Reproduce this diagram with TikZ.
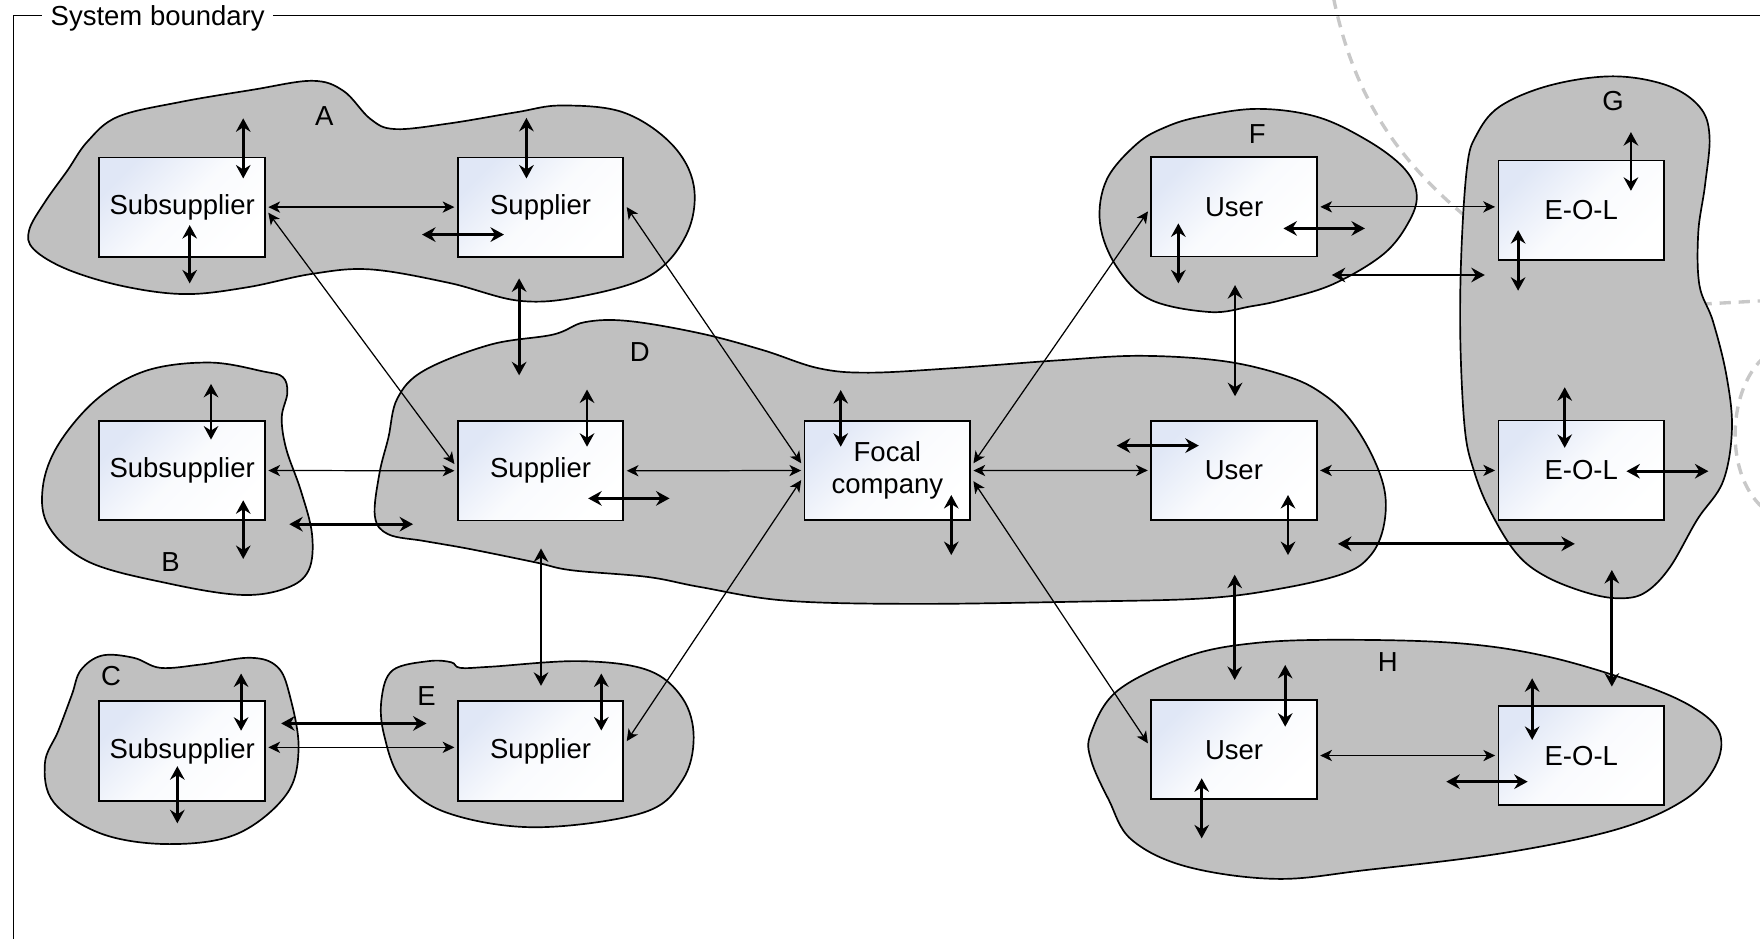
\documentclass[tikz,border=0pt]{standalone}
\usepackage{fontspec}
\setmainfont{Liberation Sans}
\usetikzlibrary{arrows.meta}

\definecolor{blobgray}{RGB}{192,192,192}
\definecolor{boxblue}{RGB}{224,231,246}
\definecolor{dashgray}{RGB}{200,200,200}

\tikzset{
  every node/.style={font=\fontsize{24.5}{28.5}\selectfont},
  unit/.style={draw, line width=1.6pt, minimum width=147.5pt, minimum height=88.5pt,
    inner sep=0pt, outer sep=3pt, align=center,
    top color=boxblue, bottom color=white, middle color=boxblue!18!white, shading angle=45},
  blob/.style={fill=blobgray, draw=black, line width=1.5pt},
  zone/.style={inner sep=0pt},
  flow/.style={line width=1.1pt,
    {Stealth[length=10.5pt,width=10pt,inset=3pt]}-{Stealth[length=10.5pt,width=10pt,inset=3pt]}},
  link/.style={line width=2.5pt,
    {Stealth[length=12pt,width=13pt,inset=4pt]}-{Stealth[length=12pt,width=13pt,inset=4pt]}},
  guide/.style={draw=dashgray, line width=3pt, dash pattern=on 10pt off 7pt},
  frame/.style={line width=1.3pt}
}

\begin{document}
\begin{tikzpicture}[x=1pt, y=-1pt]
\useasboundingbox (0,0) rectangle (1568,836);

% system boundary
\draw[frame] (12,840) -- (12,14) -- (37,14);
\draw[frame] (243,14) -- (1570,14);
\node[anchor=base, inner sep=0pt] (sysb) at (140.5,23) {System boundary};

% faint dashed guide arcs
\draw[guide] (1188,-2) .. controls (1205,80) and (1240,140) .. (1312,198);
\draw[guide] (1515,271) -- (1570,268);
\draw[guide] (1572,318) .. controls (1540,345) and (1535,420) .. (1570,452);

% clusters
\draw[blob] plot[smooth cycle, tension=0.6] coordinates {
  (26,205) (40,180) (60,152) (78,126) (105,104) (160,91) (225,80) (278,72)
  (306,81) (330,106) (352,115) (400,110) (460,100) (500,94) (555,100) (598,128)
  (618,165) (612,208) (580,245) (518,264) (463,268) (400,252) (330,240)
  (278,244) (220,256) (165,262) (110,255) (60,240) (30,222)};
\draw[blob] plot[smooth cycle, tension=0.6] coordinates {
  (187,323) (235,331) (252,336) (256,350) (251,372) (255,400) (268,437) (278,476)
  (275,508) (255,524) (215,530) (151,520) (80,501) (44,470) (38,435) (52,396)
  (87,355) (131,330)};
\draw[blob] plot[smooth cycle, tension=0.6] coordinates {
  (91,584) (119,586) (143,595) (179,592) (223,586) (247,594) (258,619) (266,667)
  (255,708) (211,743) (151,752) (91,743) (48,715) (40,680) (52,651) (64,619)
  (72,597)};
\draw[blob] plot[smooth cycle, tension=0.6] coordinates {
  (521,287) (560,286) (624,297) (680,312) (729,328) (774,332) (849,328) (943,321)
  (1017,317) (1092,322) (1149,336) (1180,352) (1203,374) (1223,407) (1234,440)
  (1232,472) (1220,496) (1197,511) (1143,524) (1074,533) (961,536) (811,538)
  (699,535) (624,523) (577,514) (509,508) (477,501) (418,489) (378,482) (346,476)
  (334,460) (338,422) (346,390) (354,355) (378,330) (437,307) (493,298)};
\draw[blob] plot[smooth cycle, tension=0.6] coordinates {
  (350,597) (382,589) (402,590) (410,595) (437,594) (517,589) (577,597) (608,622)
  (618,657) (608,695) (573,724) (477,737) (398,724) (358,695) (342,654) (340,622)};
\draw[blob] plot[smooth cycle, tension=0.6] coordinates {
  (1069,104) (1120,97) (1173,104) (1218,125) (1250,149) (1262,172) (1256,196)
  (1233,226) (1188,253) (1143,267) (1114,273) (1078,278) (1025,267) (995,238)
  (980,199) (986,160) (1013,128) (1039,113)};
\draw[blob] plot[smooth cycle, tension=0.6] coordinates {
  (1437,68) (1485,76) (1514,95) (1523,121) (1519,165) (1513,207) (1514,254)
  (1526,286) (1538,334) (1543,382) (1535,429) (1512,463) (1488,505) (1467,527)
  (1446,533) (1417,529) (1378,514) (1351,493) (1327,454) (1313,419) (1305,382)
  (1301,302) (1302,223) (1307,149) (1315,121) (1336,95) (1381,76)};
\draw[blob] plot[smooth cycle, tension=0.6] coordinates {
  (1194,570) (1299,573) (1379,585) (1460,609) (1508,630) (1532,653) (1528,683)
  (1500,713) (1440,739) (1339,760) (1218,775) (1137,783) (1057,772) (1008,748)
  (988,713) (972,677) (972,653) (996,615) (1057,585) (1117,573)};

% cluster letters
\node[zone] (zA) at (289,103) {A};
\node[zone] (zB) at (152,501) {B};
\node[zone] (zC) at (99,602) {C};
\node[zone] (zD) at (570,314) {D};
\node[zone] (zE) at (380,620) {E};
\node[zone] (zF) at (1120,119.5) {F};
\node[zone] (zG) at (1437,90) {G};
\node[zone] (zH) at (1236.5,590) {H};

% actors
\node[unit] (subA)  at (162.3,184.5) {Subsupplier};
\node[unit] (supA)  at (481.6,184.5) {Supplier};
\node[unit] (subB)  at (162.3,419.2) {Subsupplier};
\node[unit] (supD)  at (481.6,419.4) {Supplier};
\node[unit] (focal) at (790.5,419.2) {Focal\\company};
\node[unit] (userD) at (1099.3,419.1) {User};
\node[unit] (userF) at (1099.5,184.3) {User};
\node[unit] (eolA)  at (1408.7,187.2) {E-O-L};
\node[unit] (eolB)  at (1408.7,418.9) {E-O-L};
\node[unit] (subC)  at (162.3,669.1) {Subsupplier};
\node[unit] (supE)  at (481.6,669.1) {Supplier};
\node[unit] (userH) at (1099.4,667.9) {User};
\node[unit] (eolH)  at (1408.8,673.1) {E-O-L};

% flows between actors
\draw[flow] (subA.east) -- (supA.west);
\draw[flow] ([yshift=-5pt]subA.east) -- ([yshift=6pt]supD.west);
\draw[flow] (supA.east) -- ([yshift=6.5pt]focal.west);
\draw[flow] (subB.east) -- (supD.west);
\draw[flow] (supD.east) -- (focal.west);
\draw[flow] ([yshift=8.8pt]supE.east) -- ([yshift=-8.5pt]focal.west);
\draw[flow] ([yshift=3.3pt]subC.east) -- ([yshift=3.3pt]supE.west);
\draw[flow] (focal.east) -- (userD.west);
\draw[flow] ([yshift=6.5pt]focal.east) -- ([yshift=-4pt]userF.west);
\draw[flow] ([yshift=-9.5pt]focal.east) -- ([yshift=5.7pt]userH.west);
\draw[flow] (userF.east) -- (userF.east -| eolA.west);
\draw[flow] (userD.east) -- (userD.east -| eolB.west);
\draw[flow] (eolH.west -| userH.east) -- (eolH.west);

% links between clusters
\draw[link] (462.5,248) -- (462.5,334.4);
\draw[link] (482,488.6) -- (482,611);
\draw[link] (1100.3,254) -- (1100.3,353);
\draw[link] (1100,512) -- (1100,605.8);
\draw[link] (1436,507.8) -- (1436,611.7);
\draw[link] (257.7,467) -- (368,467);
\draw[link] (250.5,644.5) -- (380,644.5);
\draw[link] (1186.5,245) -- (1322.8,245);
\draw[link] (1192,484.5) -- (1403,484.5);

% exchanges of each actor with its surroundings
\draw[link] (216.7,105.4) -- (216.7,159);
\draw[link] (169,200.5) -- (169,252.5);
\draw[link] (469,105) -- (469,159);
\draw[link] (376,209) -- (449,209);
\draw[link] (188,342) -- (188,391.6);
\draw[link] (216.7,445.7) -- (216.7,498);
\draw[link] (523,347) -- (523,398);
\draw[link] (524,444) -- (596.5,444);
\draw[link] (749,347.5) -- (749,398);
\draw[link] (847.5,441) -- (847.5,494.5);
\draw[link] (994.9,397) -- (1068,397);
\draw[link] (1147.5,441) -- (1147.5,494.5);
\draw[link] (1049.8,199) -- (1049.8,252.5);
\draw[link] (1143.4,203.5) -- (1216,203.5);
\draw[link] (1453,117.7) -- (1453,170);
\draw[link] (1352.5,205) -- (1352.5,259);
\draw[link] (1394,345) -- (1394,399);
\draw[link] (1449,419.8) -- (1522,419.8);
\draw[link] (214.8,600) -- (214.8,651);
\draw[link] (158,682.6) -- (158,733.5);
\draw[link] (535.7,600) -- (535.7,650.8);
\draw[link] (1145,592.4) -- (1145,647.4);
\draw[link] (1070.6,693.4) -- (1070.6,746.9);
\draw[link] (1365,604.3) -- (1365,659.2);
\draw[link] (1288.5,696.4) -- (1361,696.4);
\end{tikzpicture}
\end{document}
